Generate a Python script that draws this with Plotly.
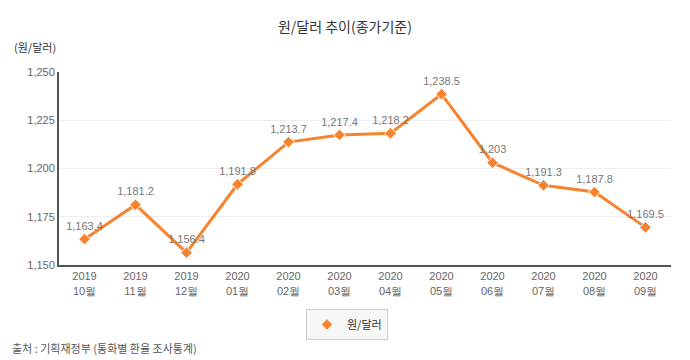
import plotly.graph_objects as go

categories = ["2019<br>10월", "2019<br>11월", "2019<br>12월", "2020<br>01월", "2020<br>02월", "2020<br>03월",
              "2020<br>04월", "2020<br>05월", "2020<br>06월", "2020<br>07월", "2020<br>08월", "2020<br>09월"]
values = [1163.4, 1181.2, 1156.4, 1191.8, 1213.7, 1217.4, 1218.2, 1238.5, 1203, 1191.3, 1187.8, 1169.5]
labels = ["1,163.4", "1,181.2", "1,156.4", "1,191.8", "1,213.7", "1,217.4", "1,218.2", "1,238.5", "1,203",
          "1,191.3", "1,187.8", "1,169.5"]
y_ticks = [1150, 1175, 1200, 1225, 1250]
y_tick_labels = ["1,150", "1,175", "1,200", "1,225", "1,250"]

FONT = "Noto Sans CJK KR, Liberation Sans, Arial, sans-serif"
ORANGE = "#F7832F"

fig = go.Figure()
fig.add_trace(go.Scatter(
    x=categories, y=values, mode="lines+markers+text", name="원/달러",
    showlegend=False,
    line=dict(color=ORANGE, width=3),
    marker=dict(symbol="diamond", size=9, color=ORANGE, line=dict(color="white", width=1)),
    text=labels, textposition="top center",
    textfont=dict(color="#777777", size=11, family="Liberation Sans, Arial, sans-serif"),
    cliponaxis=False,
))
# legend-only entry (marker only, like the reference legend)
fig.add_trace(go.Scatter(
    x=[categories[0]], y=[None], mode="markers", name="원/달러",
    marker=dict(symbol="diamond", size=8, color=ORANGE),
    showlegend=True, hoverinfo="skip",
))

fig.update_layout(
    width=682, height=352,
    margin=dict(l=51, r=19, t=64, b=95, autoexpand=False),
    paper_bgcolor="white", plot_bgcolor="white",
    font=dict(family=FONT, color="#555555"),
    title=dict(text="원/달러 추이(종가기준)", x=0.494, xanchor="center", xref="container",
               y=0.946, yref="container", yanchor="middle",
               font=dict(size=14, color="#333333", family=FONT)),
    showlegend=True,
    legend=dict(orientation="h", x=0.497, xanchor="center", xref="container",
                y=0.057, yref="container", yanchor="bottom",
                bgcolor="#f7f7f7", bordercolor="#cccccc", borderwidth=1,
                font=dict(size=11, color="#333333", family=FONT)),
    xaxis=dict(showgrid=False, showline=True, linecolor="#555555", linewidth=2, automargin=False,
               ticks="", tickfont=dict(size=11, color="#666666", family="Liberation Sans Narrow, Liberation Sans, Arial"),
               range=[-0.5, 11.5]),
    yaxis=dict(range=[1150, 1250], tickvals=y_ticks, ticktext=y_tick_labels, automargin=False,
               showgrid=True, gridcolor="#eeeeee", showline=True, linecolor="#555555", linewidth=2,
               ticks="", tickfont=dict(size=11, color="#666666", family="Liberation Sans, Arial"),
               zeroline=False),
    annotations=[
        dict(text="(원/달러)", xref="paper", yref="paper", x=-0.077, y=1.13, xanchor="left", yanchor="middle",
             showarrow=False, font=dict(size=11, color="#333333", family=FONT)),
        dict(text="출처 : 기획재정부 (통화별 환율 조사통계)", xref="paper", yref="paper", x=-0.08, y=-0.43,
             xanchor="left", yanchor="middle", showarrow=False, font=dict(size=11, color="#555555", family=FONT)),
    ],
)

fig.write_html("out.html")
